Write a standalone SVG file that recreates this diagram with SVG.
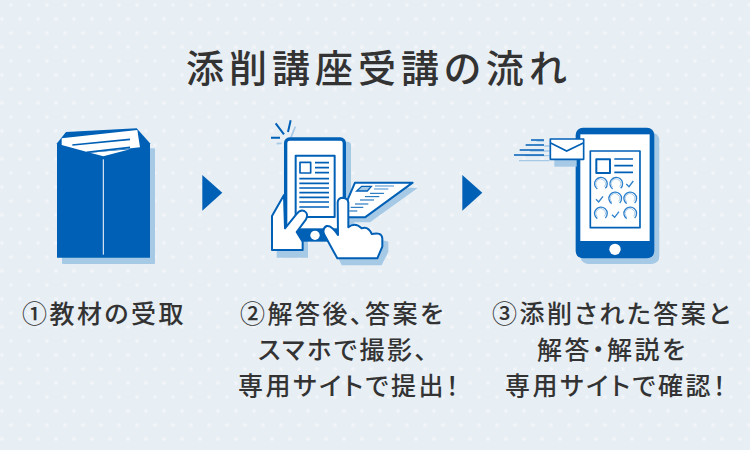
<svg xmlns="http://www.w3.org/2000/svg" width="750" height="450" viewBox="0 0 750 450">
<style>
.b{fill:#0060b6}.l{fill:#a6c9e6}.w{fill:#fff}
.sb{stroke:#0060b6;fill:none}.sl{stroke:#a6c9e6;fill:none}.sm{stroke:#3f8bd0;fill:none}
.o{stroke:#0060b6;fill:#fff;stroke-linejoin:round}
text{font-family:"Noto Sans CJK JP","Noto Sans",sans-serif;font-weight:500;fill:#333;font-feature-settings:"palt"}
.t{font-size:38px;letter-spacing:5px}
.c{font-size:25px;letter-spacing:2.5px}
</style>
<defs>
<pattern id="dots" width="18" height="28" patternUnits="userSpaceOnUse">
<circle cx="11" cy="5" r="2" fill="#f1f5f8"/><circle cx="2" cy="19" r="2" fill="#f1f5f8"/>
</pattern>
<g id="ring" fill="none">
<path stroke="#2f80cc" stroke-width="4" d="M-10 15A19 19 0 1 1 14 13"/>
<path stroke="#a6c9e6" stroke-width="3" d="M-10 9A14 14 0 1 1 11 8"/>
</g>
<path id="tick" fill="none" stroke="#2f80cc" stroke-width="4" d="M-9 1-1 9 12-8"/>
</defs>
<rect width="750" height="450" fill="#e7eef4"/>
<rect width="750" height="450" fill="url(#dots)"/>
<g id="title"><text class="t" x="186" y="82">添削講座受講の流れ</text></g>

<g id="node-envelope" transform="translate(40 110) scale(.3333)">
<rect class="l" x="66" y="115" width="279" height="347" rx="3"/>
<path class="b" d="M51 100 78 66 290 55 330 100V443H51Z"/>
<path class="w" d="M65 85 292 60 300 112 150 128 65 105Z"/>
<path class="w" d="M150 128 270 118 190 139Z"/>
<path class="sb" stroke-width="5" d="M97 105 270 88M140 127 270 112"/>
<path stroke="#fff" stroke-width="3" fill="none" d="M190 148V434"/>
</g>

<g id="arrow-1"><path class="b" d="M202.300 175 222.300 192.700 202.300 210.700Z"/></g>

<g id="node-phone" transform="translate(260 110) scale(.3333)">
<path class="sl" stroke-width="5" d="M65 100 50 101M93 82 106 50"/>
<path class="sb" stroke-width="6" d="M33 83H60M47 40 72 73M92 31 84 66"/>
<path class="l" d="M90 95H262Q273 95 273 106V370H90Z"/>
<path class="l" d="M290 233H474L330 337H250Z"/>
<path class="l" d="M50 340H144V443H50Z"/>
<path class="l" d="M245 290 282 290 282 365 385 395 385 425 365 466H245L205 380Z"/>
<path class="o" stroke-width="6" d="M285 218H458L315 322H240Z"/>
<path class="l" stroke="#0060b6" stroke-width="4" d="M305 229H334L322 243H290Z"/>
<path class="sm" stroke-width="3" d="M345 228H402M342 237H385"/>
<path class="sb" stroke-width="3" d="M330 250H372M315 260H358M300 270H342M285 282H325M272 292H310M268 303H292"/>
<rect class="o" x="77" y="87" width="176" height="280" rx="12" stroke-width="10"/>
<rect fill="#0060b6" x="72" y="355" width="186" height="40"/>
<rect class="o" x="107" y="137" width="117" height="184" stroke-width="6"/>
<rect class="o" x="120" y="157" width="32" height="32" stroke-width="5"/>
<path class="sb" stroke-width="5" d="M165 158H207M165 173H207M165 188H207M118 206H207M118 220H207M118 234H207M118 248H207M118 262H207M118 276H207M118 291H207"/>
<circle class="w" cx="165" cy="376" r="14"/>
<path class="o" stroke-width="6" d="M72 255 36 318V420H128V395L110 366 138 328Q147 312 133 303 120 298 110 312L75 355Z"/>
<path class="o" stroke-width="6" d="M233 277Q234 263 249 263 264 265 265 277V352Q285 335 305 355 325 348 335 372 365 365 367 385V410L352 445H232L192 372Q186 355 200 348 215 345 234 375Z"/>
</g>

<g id="arrow-2"><path class="b" d="M462.300 175 482.300 192.700 462.300 210.700Z"/></g>

<g id="node-tablet" transform="translate(455 115) scale(.3333)">
<rect class="l" x="377" y="53" width="236" height="394" rx="22"/>
<rect class="b" x="362" y="38" width="236" height="392" rx="22"/>
<rect class="w" x="376" y="58" width="208" height="320"/>
<circle class="w" cx="480" cy="403" r="17"/>
<rect class="o" x="406" y="108" width="149" height="230" stroke-width="5"/>
<rect class="o" x="424" y="133" width="41" height="41" stroke-width="6"/>
<path class="sb" stroke-width="5" d="M478 132H534M478 152H534M478 172H534"/>
<use href="#ring" x="437" y="207"/><use href="#ring" x="483" y="207"/><use href="#tick" x="523" y="206"/>
<use href="#tick" x="432" y="252"/><use href="#ring" x="480" y="251"/><use href="#ring" x="525" y="251"/>
<use href="#ring" x="437" y="296"/><use href="#tick" x="480" y="298"/><use href="#ring" x="525" y="296"/>
<path class="sl" stroke-width="4" d="M245 78H267M268 93H284M225 108H284M210 122H284M192 137H284"/>
<path class="sb" stroke-width="4" d="M228 75H267M212 90H267M194 105H267M177 120H267"/>
<rect class="l" x="298" y="85" width="67" height="70"/>
<rect class="o" x="286" y="72" width="100" height="61" stroke-width="5"/>
<path class="sb" stroke-width="5" d="M287 84 335 108 385 84"/>
</g>

<g id="labels">
<text class="c" x="22" y="323">①教材の受取</text>
<text class="c" x="240" y="323">②解答後、答案を</text>
<text class="c" x="258" y="359">スマホで撮影、</text>
<text class="c" x="238" y="395">専用サイトで提出！</text>
<text class="c" x="492" y="323">③添削された答案と</text>
<text class="c" x="537" y="359">解答・解説を</text>
<text class="c" x="505" y="395">専用サイトで確認！</text>
</g>
</svg>
